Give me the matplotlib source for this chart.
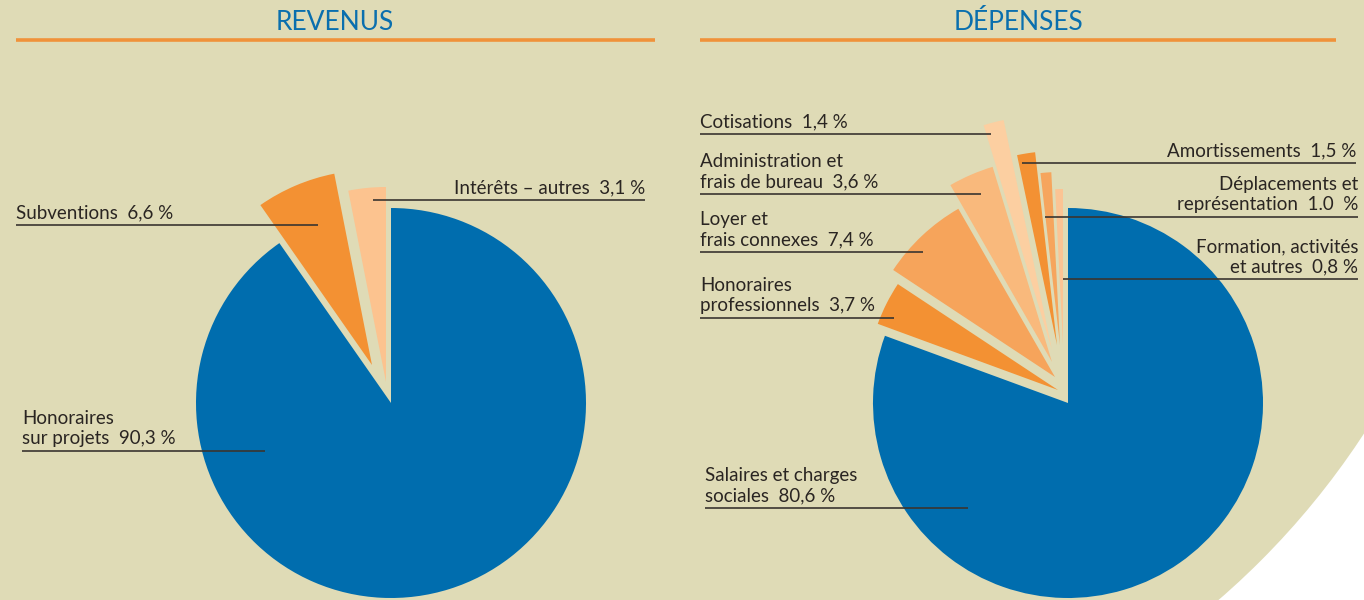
import numpy as np
import matplotlib.pyplot as plt
from matplotlib.patches import Wedge, Circle, Rectangle

plt.rcParams['font.family'] = ['Lato', 'DejaVu Sans']

# data
rev_labels = ['Honoraires\nsur projets  90,3 %', 'Subventions  6,6 %', 'Intérêts – autres  3,1 %']
rev_values = [90.3, 6.6, 3.1]

dep_labels = ['Salaires et charges\nsociales  80,6 %', 'Honoraires\nprofessionnels  3,7 %',
              'Loyer et\nfrais connexes  7,4 %', 'Administration et\nfrais de bureau  3,6 %',
              'Cotisations  1,4 %', 'Amortissements  1,5 %',
              'Déplacements et\nreprésentation  1.0  %', 'Formation, activités\net autres  0,8 %']
dep_values = [80.6, 3.7, 7.4, 3.6, 1.4, 1.5, 1.0, 0.8]

titles = ['REVENUS', 'DÉPENSES']

# style
bg = '#dfdbb6'
blue = '#006dae'
txt = '#2a2522'
rev_colors = [blue, '#f39133', '#fcc38f']
rev_radii = [195, 195, 195]
rev_shift = [(0, 0), (-19, 38), (-5, 21)]   # pixels, y up

dep_colors = [blue, '#f39133', '#f6a45b', '#f9b97c', '#fccfa1', '#f39133', '#f6a55d', '#fbc494']
dep_radii = [195, 192, 194, 204, 235, 194, 173, 156]
dep_shift = [(0, 0), (-10, 13), (-13, 26), (-16, 41), (-16, 53), (-11, 58), (-8, 58), (-5, 58)]

fig = plt.figure(figsize=(13.64, 6), dpi=100, facecolor=bg)
ax = fig.add_axes([0, 0, 1, 1])
ax.set_xlim(0, 1364)
ax.set_ylim(600, 0)
ax.set_aspect('equal')
ax.axis('off')

# white corner bottom right
ax.add_patch(Rectangle((1050, 350), 320, 260, facecolor='white', edgecolor='none', zorder=0))
ax.add_patch(Circle((700, 0), 793, facecolor=bg, edgecolor='none', zorder=0))


def draw_pie(cx, cy, values, radii, shifts, colors):
    fr = np.array(values) / np.sum(values)
    ends = 90 - 360 * np.cumsum(fr)
    starts = ends + 360 * fr
    for a1, a2, r, (dx, dy), c in zip(ends, starts, radii, shifts, colors):
        # y axis is inverted -> negate angles
        ax.add_patch(Wedge((cx + dx, cy - dy), r, -a2, -a1, facecolor=c,
                           edgecolor='none', zorder=2))


draw_pie(391, 403, rev_values, rev_radii, rev_shift, rev_colors)
draw_pie(1068, 403, dep_values, dep_radii, dep_shift, dep_colors)

# titles
for t, x, (l0, l1) in zip(titles, [335, 1018], [(16, 655), (700, 1336)]):
    ax.text(x, 22, t, ha='center', va='center', color='#0a6fae', fontsize=19)
    ax.plot([l0, l1], [40, 40], color='#f0923a', lw=2.6, solid_capstyle='butt')


def label(s, x, y, x0, x1, ha='left'):
    ax.text(x, y - 4, s, ha=ha, va='bottom', color=txt, fontsize=13.5, linespacing=1.18, zorder=4)
    ax.plot([x0, x1], [y, y], color='#3a3530', lw=1.2, zorder=3, solid_capstyle='butt')


# revenus labels
label(rev_labels[0], 22, 451, 22, 265)
label(rev_labels[1], 16, 225, 16, 318)
label(rev_labels[2], 645, 200, 373, 645, ha='right')

# depenses labels
label(dep_labels[0], 705, 508, 705, 968)
label(dep_labels[1], 700, 318, 700, 894)
label(dep_labels[2], 700, 252, 700, 923)
label(dep_labels[3], 700, 194, 700, 981)
label(dep_labels[4], 700, 134, 700, 991)
label(dep_labels[5], 1356, 163, 1022, 1356, ha='right')
label(dep_labels[6], 1358, 217, 1045, 1358, ha='right')
label(dep_labels[7], 1358, 279, 1063, 1358, ha='right')

fig.savefig('out.png', dpi=100, facecolor=bg)
